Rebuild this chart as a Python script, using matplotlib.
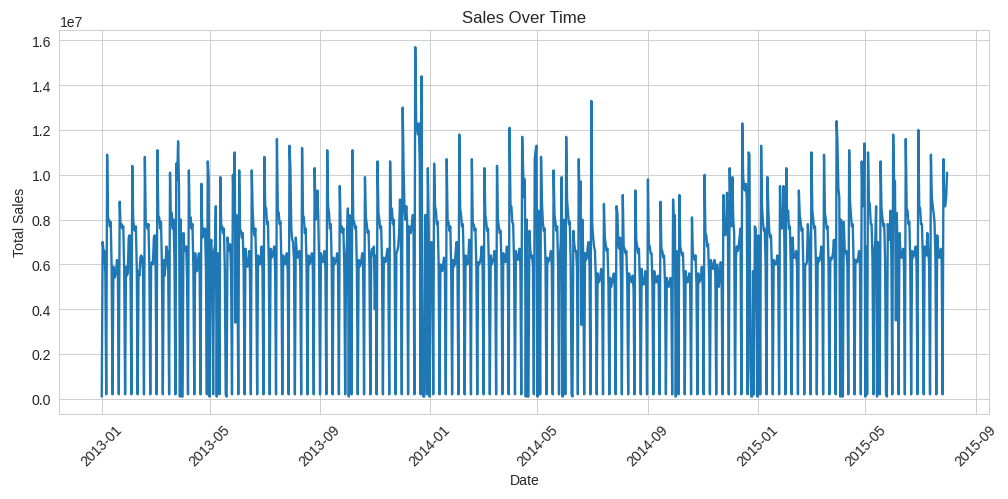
import numpy as np
import pandas as pd
import matplotlib
matplotlib.use("Agg")
import matplotlib.pyplot as plt
import seaborn as sns

# ==============================
# Daily total sales (millions) (Mon..Sun)
# ==============================
start_date = "2013-01-01"

# Tue 1 Jan .. Sun 6 Jan 2013
first_days = [0.1, 7.0, 6.6, 6.6, 5.6, 0.2]

weeks_2013 = [
    [10.9, 8.0, 8.0, 7.7, 7.9, 5.9, 0.2],
    [5.9, 5.4, 5.5, 5.7, 6.2, 5.4, 0.2],
    [8.8, 7.7, 7.8, 7.6, 7.7, 5.7, 0.2],
    [5.9, 5.5, 5.6, 7.2, 7.3, 5.6, 0.2],
    [10.4, 8.0, 7.6, 7.5, 7.7, 5.8, 0.2],
    [5.7, 5.5, 6.3, 6.4, 6.3, 5.6, 0.2],
    [10.8, 7.8, 7.8, 7.6, 7.8, 5.9, 0.2],
    [6.0, 6.1, 6.0, 7.2, 7.3, 5.7, 0.2],
    [11.1, 8.1, 8.1, 7.6, 7.9, 5.9, 0.2],
    [6.2, 5.5, 6.0, 6.8, 6.6, 5.7, 0.2],
    [10.1, 7.8, 8.3, 7.6, 8.0, 6.0, 0.2],
    [10.5, 9.8, 11.5, 9.5, 0.1, 8.0, 0.1],
    [0.1, 7.4, 6.6, 6.6, 6.8, 5.4, 0.2],
    [10.2, 7.7, 8.1, 7.6, 7.8, 5.8, 0.2],
    [6.5, 5.7, 5.7, 6.1, 6.5, 5.6, 0.2],
    [9.6, 7.2, 7.6, 7.3, 7.6, 5.8, 0.2],
    [10.6, 9.9, 0.1, 6.9, 7.1, 5.6, 0.2],
    [6.6, 6.8, 8.6, 0.1, 6.5, 5.6, 0.2],
    [9.9, 7.6, 7.7, 7.4, 7.6, 5.8, 0.2],
    [0.1, 7.2, 6.8, 6.6, 6.9, 5.6, 0.2],
    [10.0, 8.2, 11.0, 3.4, 8.2, 6.0, 0.2],
    [10.2, 7.5, 7.5, 7.2, 7.4, 5.7, 0.2],
    [6.7, 6.0, 5.9, 6.1, 6.6, 5.6, 0.2],
    [10.2, 8.4, 7.6, 7.3, 7.6, 5.8, 0.2],
    [6.4, 6.0, 6.0, 6.3, 6.8, 5.7, 0.2],
    [10.8, 8.6, 8.5, 7.8, 7.9, 6.0, 0.2],
    [6.7, 6.3, 6.4, 6.6, 6.8, 5.8, 0.2],
    [11.6, 8.4, 8.3, 7.8, 7.9, 6.0, 0.2],
    [6.4, 6.1, 6.0, 6.2, 6.5, 5.7, 0.2],
    [11.3, 10.3, 7.6, 7.1, 7.0, 6.2, 0.2],
    [7.2, 6.6, 6.3, 6.4, 6.6, 5.8, 0.2],
    [11.2, 8.2, 8.1, 7.4, 7.6, 5.9, 0.2],
    [6.4, 6.0, 6.1, 6.3, 6.5, 5.8, 0.2],
    [10.3, 8.0, 8.2, 9.3, 8.2, 6.0, 0.2],
    [6.5, 6.3, 6.1, 6.2, 6.6, 5.8, 0.2],
    [11.1, 8.6, 8.3, 7.6, 7.8, 6.0, 0.2],
    [6.3, 6.0, 6.1, 6.2, 6.5, 5.9, 0.2],
    [9.5, 7.5, 7.7, 7.4, 7.6, 5.9, 0.2],
    [6.2, 7.0, 8.5, 0.1, 8.2, 6.0, 0.2],
    [11.1, 8.0, 7.9, 7.6, 7.7, 5.8, 0.2],
    [6.2, 5.9, 6.0, 6.2, 6.5, 5.8, 0.2],
    [9.9, 8.1, 7.8, 7.4, 7.5, 5.9, 0.2],
    [6.5, 6.7, 6.4, 6.8, 4.0, 6.4, 0.2],
    [10.6, 8.3, 8.0, 7.6, 7.7, 6.1, 0.2],
    [6.3, 6.2, 6.1, 6.4, 6.7, 6.1, 0.2],
    [10.6, 8.0, 8.5, 7.8, 8.0, 6.4, 0.2],
    [6.5, 6.6, 6.8, 7.4, 8.9, 7.4, 0.2],
    [13.0, 10.3, 8.5, 8.0, 8.6, 7.8, 0.2],
    [7.7, 7.6, 7.4, 7.7, 8.2, 8.2, 0.2],
    [15.7, 12.4, 12.1, 11.8, 12.3, 10.5, 0.2],
    [14.4, 0.6, 0.1, 0.1, 8.2, 8.2, 0.2],
    [10.3, 7.5, 0.1, 6.4, 7.0, 6.0, 0.2],
]

weeks_2014 = [
    [10.5, 8.6, 8.4, 7.8, 7.9, 6.0, 0.2],
    [6.0, 5.8, 5.7, 6.0, 6.3, 5.7, 0.2],
    [10.7, 7.9, 7.9, 7.5, 7.7, 5.8, 0.2],
    [6.2, 5.9, 6.0, 6.6, 7.0, 5.8, 0.2],
    [11.8, 8.5, 8.2, 7.7, 7.8, 5.9, 0.2],
    [6.4, 6.0, 6.0, 6.2, 7.1, 5.8, 0.2],
    [10.7, 7.8, 7.8, 7.5, 7.6, 5.8, 0.2],
    [6.1, 6.0, 6.1, 6.3, 6.8, 5.8, 0.2],
    [10.3, 8.2, 7.9, 7.5, 7.6, 5.8, 0.2],
    [6.4, 6.0, 6.1, 6.2, 6.6, 5.9, 0.2],
    [10.4, 8.0, 7.7, 7.4, 7.5, 5.9, 0.2],
    [6.5, 6.2, 6.1, 6.3, 6.8, 5.9, 0.2],
    [12.1, 8.6, 8.6, 7.9, 7.8, 6.0, 0.2],
    [6.6, 6.3, 6.2, 6.4, 6.7, 6.0, 0.2],
    [11.7, 10.4, 9.0, 9.8, 0.1, 8.0, 0.1],
    [0.1, 7.5, 6.7, 6.3, 6.4, 5.9, 0.2],
    [10.7, 11.1, 11.3, 0.1, 8.4, 6.6, 0.2],
    [10.8, 8.8, 7.9, 7.5, 7.6, 6.0, 0.2],
    [6.3, 6.1, 6.2, 6.3, 6.6, 5.9, 0.2],
    [10.2, 8.2, 7.9, 7.5, 7.7, 5.9, 0.2],
    [6.4, 7.0, 9.9, 0.1, 8.0, 6.3, 0.2],
    [11.7, 8.9, 8.3, 7.8, 7.9, 6.1, 0.2],
    [0.1, 7.5, 6.9, 6.6, 6.6, 5.9, 0.2],
    [10.7, 8.3, 9.7, 3.3, 8.0, 6.3, 0.2],
    [6.5, 6.2, 6.3, 6.8, 7.0, 5.9, 0.2],
    [13.3, 7.8, 7.2, 6.8, 6.6, 5.4, 0.2],
    [5.6, 5.2, 5.3, 5.5, 5.8, 5.0, 0.2],
    [8.7, 7.2, 6.9, 6.6, 6.7, 5.2, 0.2],
    [5.4, 5.0, 5.2, 5.3, 5.6, 5.0, 0.2],
    [8.6, 8.3, 6.9, 6.7, 7.2, 5.3, 0.2],
    [9.1, 6.8, 6.7, 6.5, 6.6, 5.1, 0.2],
    [5.6, 5.3, 5.3, 5.2, 5.5, 4.9, 0.2],
    [9.3, 7.1, 6.8, 6.5, 6.7, 5.1, 0.2],
    [5.8, 5.2, 5.1, 5.2, 5.7, 5.0, 0.2],
    [9.8, 6.9, 6.8, 6.5, 6.5, 5.2, 0.2],
    [5.7, 5.3, 5.2, 5.4, 5.5, 5.0, 0.2],
    [8.8, 6.7, 6.6, 6.3, 6.4, 5.1, 0.2],
    [5.4, 5.1, 5.0, 5.2, 5.4, 4.9, 0.2],
    [8.9, 7.4, 8.2, 0.1, 6.6, 5.4, 0.2],
    [9.1, 6.8, 6.6, 6.4, 6.5, 5.2, 0.2],
    [5.7, 5.3, 5.2, 5.3, 5.6, 5.1, 0.2],
    [8.1, 6.5, 6.4, 6.2, 6.4, 5.1, 0.2],
    [5.6, 5.2, 5.3, 5.4, 5.9, 5.0, 0.2],
    [10.0, 7.4, 7.3, 6.8, 6.9, 5.5, 0.2],
    [6.2, 6.0, 5.8, 5.9, 6.2, 5.5, 0.2],
    [6.0, 5.6, 5.0, 5.5, 6.1, 5.6, 0.2],
    [9.1, 7.6, 7.3, 7.4, 9.2, 7.6, 0.2],
    [10.3, 8.0, 7.7, 9.9, 8.0, 7.4, 0.2],
    [6.3, 6.8, 6.6, 6.8, 7.2, 7.6, 0.2],
    [12.3, 9.9, 9.4, 9.3, 9.6, 9.0, 0.2],
    [11.0, 10.9, 1.5, 0.1, 0.1, 5.7, 0.2],
    [7.7, 7.6, 5.0, 0.1, 7.3, 6.0, 0.2],
]

weeks_2015 = [
    [11.3, 8.6, 7.9, 7.5, 7.6, 6.0, 0.2],
    [9.9, 8.5, 7.5, 7.2, 7.3, 5.8, 0.2],
    [6.2, 6.0, 6.0, 6.1, 6.4, 5.8, 0.2],
    [9.5, 7.9, 7.6, 7.8, 9.5, 6.5, 0.2],
    [10.3, 8.0, 8.4, 7.6, 7.7, 6.0, 0.2],
    [7.2, 6.5, 6.3, 6.3, 6.6, 5.9, 0.2],
    [9.3, 8.2, 7.9, 7.5, 7.6, 5.9, 0.2],
    [6.0, 6.0, 6.1, 7.8, 7.2, 5.9, 0.2],
    [11.0, 8.4, 8.0, 7.6, 7.7, 6.0, 0.2],
    [6.3, 6.1, 6.2, 6.4, 6.8, 6.0, 0.2],
    [10.9, 8.3, 8.0, 7.6, 7.7, 6.0, 0.2],
    [6.3, 6.2, 6.3, 6.5, 7.1, 6.1, 0.2],
    [12.4, 11.4, 9.4, 9.0, 0.1, 8.0, 0.1],
    [0.1, 7.9, 6.7, 6.5, 6.6, 6.0, 0.2],
    [11.1, 8.8, 8.2, 7.7, 7.8, 6.0, 0.2],
    [6.2, 6.1, 6.1, 6.3, 6.6, 6.0, 0.2],
    [10.6, 8.6, 8.8, 11.4, 0.1, 6.8, 0.2],
    [11.0, 8.8, 8.7, 7.8, 7.8, 6.1, 0.2],
    [6.6, 7.0, 8.6, 0.1, 7.0, 6.0, 0.2],
    [10.6, 8.5, 8.1, 7.7, 7.8, 6.2, 0.2],
    [0.1, 7.8, 7.3, 7.1, 8.4, 6.3, 0.2],
    [11.8, 9.8, 9.7, 3.5, 8.3, 6.4, 0.2],
    [7.4, 6.6, 6.3, 6.4, 6.7, 6.0, 0.2],
    [11.6, 8.5, 8.4, 7.8, 7.9, 6.1, 0.2],
    [6.6, 6.3, 6.4, 6.6, 6.8, 6.0, 0.2],
    [12.0, 8.6, 8.5, 7.8, 7.8, 6.2, 0.2],
    [6.8, 6.5, 6.4, 7.4, 6.6, 6.0, 0.2],
    [10.9, 9.0, 8.6, 8.3, 7.9, 6.3, 0.2],
    [7.3, 6.6, 6.3, 6.5, 6.7, 6.1, 0.2],
]

# Mon 27 Jul .. Fri 31 Jul 2015
last_days = [10.7, 8.6, 8.6, 9.0, 10.1]

# ==============================
# Build the series
# ==============================
values = list(first_days)
for wk in weeks_2013 + weeks_2014 + weeks_2015:
    values.extend(wk)
values.extend(last_days)

sales = pd.Series(np.array(values) * 1e6,
                  index=pd.date_range(start_date, periods=len(values), freq="D"))

# ==============================
# Plot
# ==============================
sns.set_style("whitegrid")
plt.rcParams["font.family"] = ["Liberation Sans", "DejaVu Sans"]

fig, ax = plt.subplots(figsize=(12, 5.95), dpi=84)
ax.plot(sales.index, sales.values, color="#1f77b4", linewidth=2)

ax.set_title("Sales Over Time", fontsize=14.4)
ax.set_xlabel("Date", fontsize=12)
ax.set_ylabel("Total Sales", fontsize=12)
ax.tick_params(axis="both", labelsize=12)
ax.yaxis.get_offset_text().set_fontsize(12)
plt.xticks(rotation=45)

fig.subplots_adjust(left=0.059, right=0.9815, top=0.939, bottom=0.17)
fig.savefig("out.png", dpi=84)
